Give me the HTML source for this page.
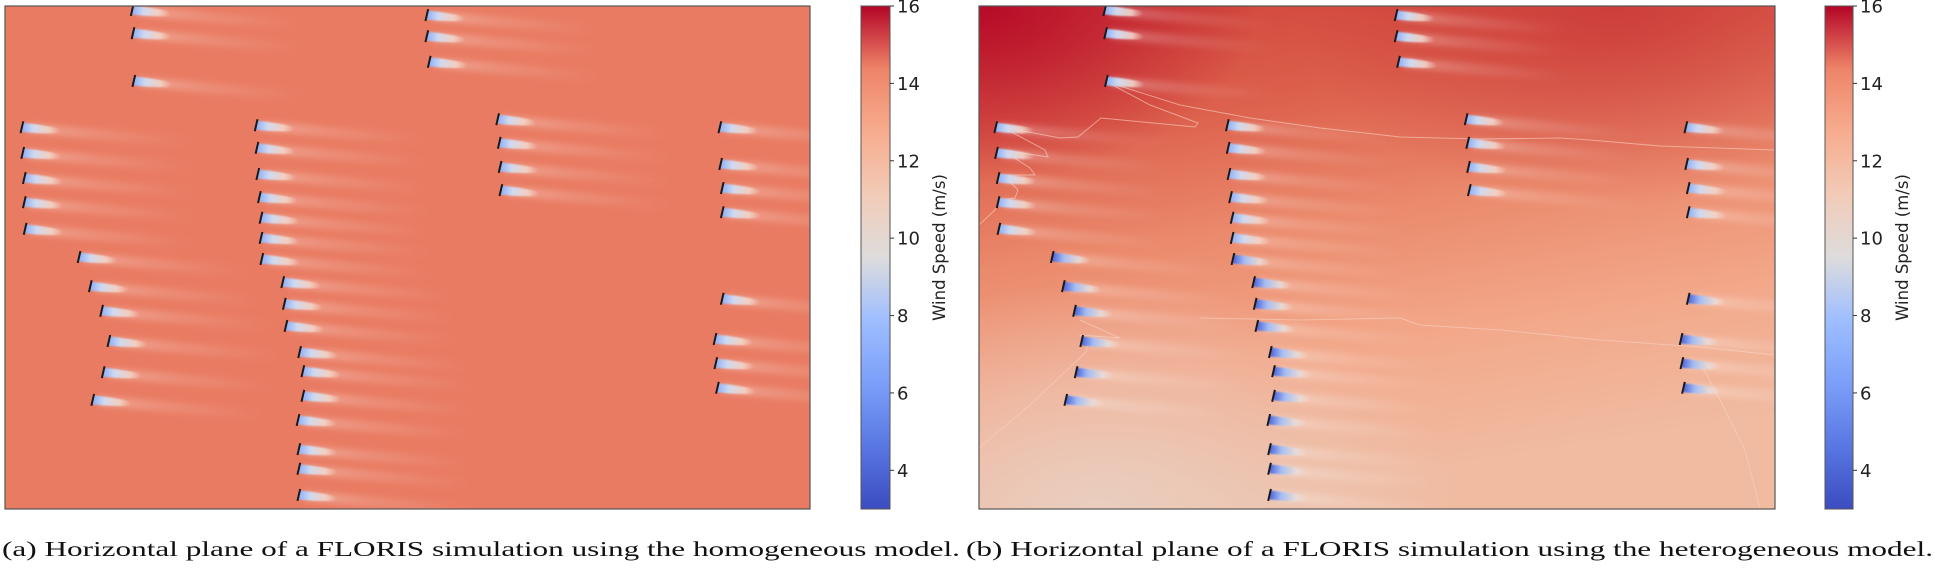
<!DOCTYPE html>
<html><head><meta charset="utf-8">
<style>
html,body{margin:0;padding:0;background:#fff;width:1935px;height:570px;overflow:hidden}
svg{display:block}
</style></head>
<body>
<svg id="fig" width="1935" height="570" viewBox="0 0 1935 570" xmlns="http://www.w3.org/2000/svg">
<defs>
  <linearGradient id="cbar" x1="0" y1="1" x2="0" y2="0">
    <stop offset="0" stop-color="#3b4cc0"/>
    <stop offset="0.125" stop-color="#5977e3"/>
    <stop offset="0.25" stop-color="#7b9ff9"/>
    <stop offset="0.375" stop-color="#9ebeff"/>
    <stop offset="0.5" stop-color="#dddcdc"/>
    <stop offset="0.625" stop-color="#f2cbb7"/>
    <stop offset="0.75" stop-color="#f7ac8e"/>
    <stop offset="0.875" stop-color="#ee8468"/>
    <stop offset="1" stop-color="#b40426"/>
  </linearGradient>
  <linearGradient id="hetBg" x1="0" y1="0" x2="0.25" y2="1">
    <stop offset="0" stop-color="#cf4239"/>
    <stop offset="0.25" stop-color="#dc5f4b"/>
    <stop offset="0.5" stop-color="#eb8a6c"/>
    <stop offset="0.75" stop-color="#f3a88a"/>
    <stop offset="1" stop-color="#f0bba1"/>
  </linearGradient>
  <radialGradient id="hetTL" cx="0" cy="0" r="0.35">
    <stop offset="0" stop-color="#b40426" stop-opacity="0.9"/>
    <stop offset="1" stop-color="#b40426" stop-opacity="0"/>
  </radialGradient>
  <radialGradient id="hetBL" cx="0.15" cy="1" r="0.45">
    <stop offset="0" stop-color="#e9d0c3" stop-opacity="0.9"/>
    <stop offset="1" stop-color="#e9d0c3" stop-opacity="0"/>
  </radialGradient>
  <radialGradient id="hetTR" cx="0.8" cy="0" r="0.4">
    <stop offset="0" stop-color="#c42c33" stop-opacity="0.6"/>
    <stop offset="1" stop-color="#c42c33" stop-opacity="0"/>
  </radialGradient>
  <linearGradient id="wakeCore" x1="0" y1="0" x2="1" y2="0">
    <stop offset="0" stop-color="#8fb0f7"/>
    <stop offset="0.3" stop-color="#cfdaf0"/>
    <stop offset="0.7" stop-color="#f3d8cb" stop-opacity="0.85"/>
    <stop offset="1" stop-color="#f5dccf" stop-opacity="0"/>
  </linearGradient>
  <linearGradient id="wakeCoreB" x1="0" y1="0" x2="1" y2="0">
    <stop offset="0" stop-color="#4a62d8"/>
    <stop offset="0.3" stop-color="#a3bcf3"/>
    <stop offset="0.7" stop-color="#e8dcd8" stop-opacity="0.9"/>
    <stop offset="1" stop-color="#f0dcd2" stop-opacity="0"/>
  </linearGradient>
  <linearGradient id="wakeTail" x1="0" y1="0" x2="1" y2="0">
    <stop offset="0" stop-color="#ffffff" stop-opacity="0.3"/>
    <stop offset="0.4" stop-color="#ffffff" stop-opacity="0.14"/>
    <stop offset="1" stop-color="#ffffff" stop-opacity="0"/>
  </linearGradient>
  <filter id="blur3" x="-10%" y="-100%" width="120%" height="300%"><feGaussianBlur stdDeviation="3"/></filter>
  <filter id="blur1" x="-10%" y="-100%" width="120%" height="300%"><feGaussianBlur stdDeviation="0.8"/></filter>
  <clipPath id="clipA"><rect x="5" y="6" width="805" height="503"/></clipPath>
  <clipPath id="clipB"><rect x="979" y="6" width="796" height="503"/></clipPath>
</defs>

<g>
  <rect x="5" y="6" width="805" height="503" fill="#e97b62"/>
  <g id="wakesA" clip-path="url(#clipA)"></g>
  <rect x="5" y="6" width="805" height="503" fill="none" stroke="#555" stroke-width="1.2"/>
</g>

<g>
  <g clip-path="url(#clipB)">
    <rect x="979" y="6" width="796" height="503" fill="url(#hetBg)"/>
    <rect x="979" y="6" width="796" height="503" fill="url(#hetTR)"/>
    <rect x="979" y="6" width="796" height="503" fill="url(#hetTL)"/>
    <rect x="979" y="6" width="796" height="503" fill="url(#hetBL)"/>
    <g fill="none" stroke="#f6d2c2" stroke-opacity="0.6" stroke-width="1">
      <polyline points="1107,82 1180,105 1250,118 1320,128 1400,137 1480,139 1560,138 1590,140 1660,146 1775,150"/>
      <polyline points="1107,82 1150,105 1198,123 1195,127 1101,118 1078,137 1060,138 1002,127 1045,150 1048,157 1002,150 1030,168 1035,175 1003,175 1018,190 1015,198 1000,200 995,210 979,225"/>
      <polyline points="979,448 1030,405 1086,352 1088,345 1080,335 1120,338 1080,320"/>
      <polyline points="1200,318 1300,320 1400,318 1420,325 1500,330 1600,340 1700,347 1775,355"/>
      <polyline points="1700,362 1720,400 1745,450 1760,509"/>
    </g>
    <g id="wakesB"></g>
  </g>
  <rect x="979" y="6" width="796" height="503" fill="none" stroke="#555" stroke-width="1.2"/>
</g>

<g id="cbA"></g>
<g id="cbB"></g>

<text x="2" y="556" font-family="'Liberation Serif', serif" font-size="21.5" fill="#111" textLength="958" lengthAdjust="spacingAndGlyphs">(a) Horizontal plane of a FLORIS simulation using the homogeneous model.</text>
<text x="966" y="556" font-family="'Liberation Serif', serif" font-size="21.5" fill="#111" textLength="967" lengthAdjust="spacingAndGlyphs">(b) Horizontal plane of a FLORIS simulation using the heterogeneous model.</text>
</svg>

<script>
// Turbine layout (normalized 0..1000 across domain)
const turbineX = [158,159,160, 524,524,527, 21,22,24,24,25, 92,106,120,129,122,109,
  312,313,314,316,318,318,319,345,347,349,366,370,370,364,365,365,365,
  612,614,615,616, 888,889,891,891,891,882,883,885];
const turbineY = [8,54,149, 18,60,111, 241,292,342,390,443, 499,557,606,666,728,783,
  237,282,334,380,421,461,503,549,592,636,688,726,775,823,881,920,972,
  225,272,320,366, 241,314,362,410,582,662,710,759];
// Colorbar data
const cbMin = 3, cbMax = 16;
const cbTicks = [4,6,8,10,12,14,16];

const NS = "http://www.w3.org/2000/svg";
function mk(tag, attrs, parent){
  const e = document.createElementNS(NS, tag);
  for (const k in attrs) e.setAttribute(k, attrs[k]);
  parent.appendChild(e);
  return e;
}
function drawWakes(gid, x0, w, y0, h, strongBottom){
  const g = document.getElementById(gid);
  const sx = v => x0 + v / 1000 * w;
  const sy = v => y0 + v / 1000 * h;
  for (let i = 0; i < turbineX.length; i++){
    const x = sx(turbineX[i]), y = sy(turbineY[i]);
    const tg = mk('g', {transform:`translate(${x},${y}) rotate(3.5)`}, g);
    
    
    mk('path', {d:'M5,-4 C60,-4 120,-2 170,0 L170,9 C120,9 60,8 5,5 Z', fill:'url(#wakeTail)', filter:'url(#blur3)'}, tg);
    const strong = strongBottom && turbineY[i] > 480;
    mk('path', {d:'M0,-4.5 C12,-4 24,-3 34,-1.5 C40,0 40,3 34,4 C24,5 12,5 0,4.5 Z', fill: strong ? 'url(#wakeCoreB)' : 'url(#wakeCore)', filter:'url(#blur1)'}, tg);
    const ln = mk('line', {x1:-1, y1:6, x2:1, y2:-6, stroke:'#1a1a1a', 'stroke-width':2}, tg);
    
    
  }
}
drawWakes('wakesA', 5, 805, 6, 503, false);
drawWakes('wakesB', 979, 796, 6, 503, true);

function drawColorbar(gid, x, w, y, h){
  const g = document.getElementById(gid);
  const r = mk('rect', {x:x, y:y, width:w, height:h, fill:'url(#cbar)', stroke:'#555', 'stroke-width':1}, g);
  
  
  const vy = v => y + h - (v - cbMin) / (cbMax - cbMin) * h;
  cbTicks.forEach(v => {
    const ty = vy(v);
    mk('line', {x1:x+w, y1:ty, x2:x+w+4, y2:ty, stroke:'#333', 'stroke-width':1}, g);
    const t = mk('text', {x:x+w+7, y:ty+6.5, 'font-family':"'DejaVu Sans', 'Liberation Sans', sans-serif", 'font-size':18, fill:'#222'}, g);
    t.textContent = String(v);
    
    
  });
  const lbl = mk('text', {x:0, y:0, transform:`translate(${x+w+55},${y+h/2-10}) rotate(-90)`, 'text-anchor':'middle', 'font-family':"'DejaVu Sans', 'Liberation Sans', sans-serif", 'font-size':16.5, fill:'#222'}, g);
  lbl.textContent = 'Wind Speed (m/s)';
  
  
}
drawColorbar('cbA', 861, 29, 6, 503);
drawColorbar('cbB', 1825, 28, 6, 503);
</script>
</body></html>
